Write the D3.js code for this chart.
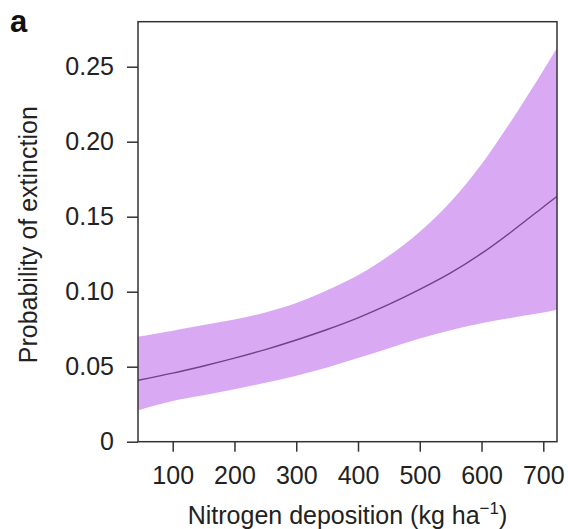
<!DOCTYPE html>
<html>
<head>
<meta charset="utf-8">
<script src="https://cdn.jsdelivr.net/npm/d3@7"></script>
<style>
  body { margin: 0; background: #fff; }
  svg { display: block; font-family: "Liberation Sans", Arial, Helvetica, sans-serif; }
</style>
</head>
<body>
<script>
// nitrogen deposition (kg/ha) and the fitted probability with its band
const deposition = [44, 100, 150, 200, 250, 300, 350, 400, 450, 500, 550, 600, 650, 700, 722];
const meanProb   = [0.0410, 0.0457, 0.0505, 0.0557, 0.0614, 0.0678, 0.0748, 0.0826, 0.0915, 0.1015, 0.1125, 0.1255, 0.1405, 0.1565, 0.1635];
const upperProb  = [0.0700, 0.0740, 0.0778, 0.0815, 0.0862, 0.0925, 0.1010, 0.1110, 0.1240, 0.1400, 0.1600, 0.1850, 0.2150, 0.2475, 0.2623];
const lowerProb  = [0.0210, 0.0272, 0.0310, 0.0349, 0.0393, 0.0440, 0.0495, 0.0558, 0.0623, 0.0688, 0.0743, 0.0790, 0.0827, 0.0861, 0.0880];
const xTicks = [100, 200, 300, 400, 500, 600, 700];
const yTicks = [0, 0.05, 0.10, 0.15, 0.20, 0.25];

const width = 568, height = 529;
const margin = {top: 21.7, right: 11, bottom: 87.3, left: 138};
const fontSize = 25;

const data = deposition.map((d, i) => ({x: d, m: meanProb[i], lo: lowerProb[i], hi: upperProb[i]}));

const svg = d3.select("body").append("svg")
    .attr("width", width)
    .attr("height", height);

const x = d3.scaleLinear()
    .domain([43.8, 722.2])
    .range([margin.left, width - margin.right]);

const y = d3.scaleLinear()
    .domain([0, 0.28])
    .range([height - margin.bottom, margin.top]);

const curve = d3.curveCatmullRom.alpha(0.5);

// confidence band
svg.append("path")
    .datum(data)
    .attr("fill", "#d9aaf3")
    .attr("d", d3.area()
      .curve(curve)
      .x(d => x(d.x))
      .y0(d => y(d.lo))
      .y1(d => y(d.hi)));

// mean line
svg.append("path")
    .datum(data)
    .attr("fill", "none")
    .attr("stroke", "#6e4383")
    .attr("stroke-width", 1.4)
    .attr("d", d3.line()
      .curve(curve)
      .x(d => x(d.x))
      .y(d => y(d.m)));

// box round the plot
svg.append("rect")
    .attr("x", x.range()[0])
    .attr("y", y.range()[1])
    .attr("width", x.range()[1] - x.range()[0])
    .attr("height", y.range()[0] - y.range()[1])
    .attr("fill", "none")
    .attr("stroke", "#333")
    .attr("stroke-width", 1.5);

// axes
const xAxis = svg.append("g")
    .attr("transform", `translate(0,${y.range()[0]})`)
    .call(d3.axisBottom(x).tickValues(xTicks).tickSize(10).tickPadding(15));

const yAxis = svg.append("g")
    .attr("transform", `translate(${x.range()[0]},0)`)
    .call(d3.axisLeft(y).tickValues(yTicks).tickSize(11).tickPadding(13)
      .tickFormat(d => d === 0 ? "0" : d3.format(".2f")(d)));

[xAxis, yAxis].forEach(g => {
  g.select(".domain").remove();
  g.selectAll(".tick line").attr("stroke", "#333").attr("stroke-width", 1.5);
  g.selectAll(".tick text")
    .attr("fill", "#222")
    .style("font-size", fontSize + "px")
    .style("font-family", "'Liberation Sans', Arial, Helvetica, sans-serif");
});

// axis titles
const xTitle = svg.append("text")
    .attr("x", (x.range()[0] + x.range()[1]) / 2)
    .attr("y", 524)
    .attr("text-anchor", "middle")
    .attr("fill", "#222")
    .style("font-size", fontSize + "px");
xTitle.append("tspan").text("Nitrogen deposition (kg ha");
xTitle.append("tspan").attr("dy", -10).style("font-size", "17px").text("\u22121");
xTitle.append("tspan").attr("dy", 10).text(")");

svg.append("text")
    .attr("transform", `translate(37,${(y.range()[0] + y.range()[1]) / 2 + 3}) rotate(-90)`)
    .attr("text-anchor", "middle")
    .attr("fill", "#222")
    .style("font-size", fontSize + "px")
    .text("Probability of extinction");

// panel letter
svg.append("text")
    .attr("x", 10)
    .attr("y", 32)
    .attr("fill", "#111")
    .style("font-size", "31px")
    .style("font-weight", "bold")
    .text("a");
</script>
</body>
</html>
